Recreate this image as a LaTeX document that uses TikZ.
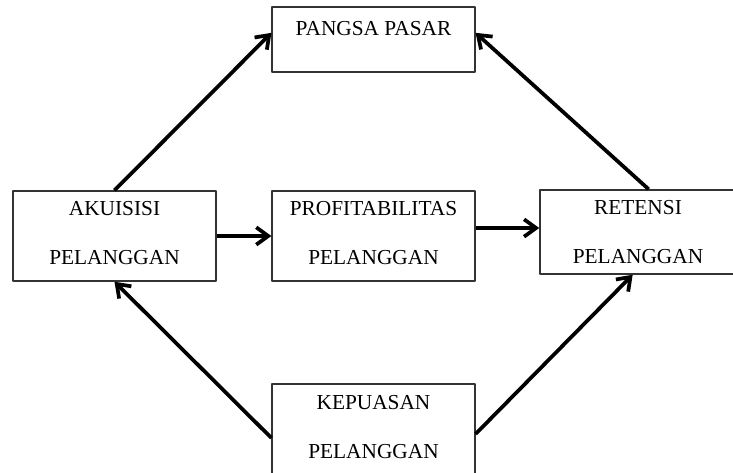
\documentclass[tikz,border=0pt]{standalone}
\usepackage{fontspec}
\setmainfont{Liberation Serif}
\usetikzlibrary{arrows.meta}
\definecolor{frame}{HTML}{333333}

\begin{document}
\begin{tikzpicture}[
  x=0.75pt, y=-0.75pt,
  line join=round,
  every node/.style={font=\fontsize{16}{36.8}\selectfont, inner sep=0pt},
  box/.style={draw=frame, line width=1.1pt, align=center, minimum width=152pt, minimum height=67.5pt},
  link/.style={draw=black, line width=2.8pt, -{Straight Barb[length=9pt, width=13pt]}},
]
\useasboundingbox (0,0) rectangle (733,472);
\node[box, minimum height=49pt, text depth=16pt] (pangsa) at (373.5,39.5) {PANGSA PASAR};
\node[box, text depth=5pt] (akuisisi) at (114.5,236) {AKUISISI\\PELANGGAN};
\node[box, text depth=5pt] (profit) at (373.5,236) {PROFITABILITAS\\PELANGGAN};
\node[box, minimum width=147pt, minimum height=63pt] (retensi) at (638,232) {RETENSI\\PELANGGAN};
\node[box, text depth=5pt, minimum height=69pt] (kepuasan) at (373.5,430) {KEPUASAN\\PELANGGAN};
\draw[link] (akuisisi.north) -- ([yshift=5pt]pangsa.west);
\draw[link] ([xshift=8pt]retensi.north) -- ([yshift=5pt]pangsa.east);
\draw[link] (akuisisi) -- (profit);
\draw[link] ([yshift=6pt]profit.east) -- ([yshift=3pt]retensi.west);
\draw[link] ([yshift=-6pt]kepuasan.west) -- (akuisisi.south);
\draw[link] ([yshift=-3pt]kepuasan.east) -- ([xshift=-4pt]retensi.south);
\end{tikzpicture}
\end{document}
